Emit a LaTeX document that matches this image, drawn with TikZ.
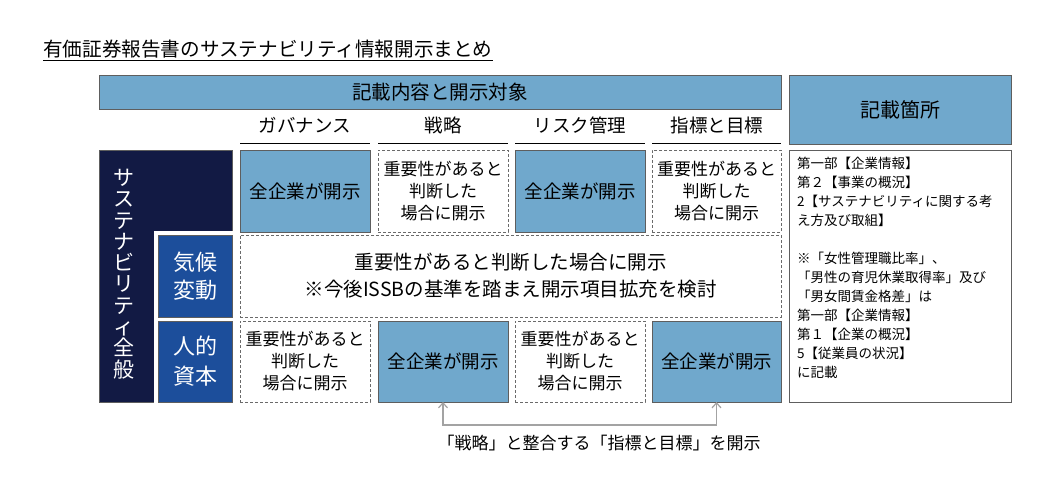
\documentclass[tikz,border=0pt]{standalone}
\usepackage{fontspec}
\setmainfont{Noto Sans CJK JP}
\usetikzlibrary{arrows.meta}
\definecolor{lb}{HTML}{70A8CC}
\definecolor{navy}{HTML}{121A44}
\definecolor{midblue}{HTML}{1C4E9B}
\definecolor{bgray}{HTML}{5E5E5E}
\definecolor{dgray}{HTML}{6A6A6A}
\definecolor{agray}{HTML}{A3A3A3}
\newcommand\myfs[2]{\fontsize{#1pt}{#2pt}\selectfont}
\begin{document}
\begin{tikzpicture}[x=1pt,y=-1pt,
  base/.style={inner sep=0pt, outer sep=0pt, anchor=north west, align=center},
  solidbox/.style={base, draw=bgray, line width=0.9pt, fill=lb},
  dashbox/.style={base, draw=dgray, line width=0.8pt, dash pattern=on 3pt off 2pt, fill=white},
  darkbox/.style={base, draw=bgray, line width=0.9pt, fill=navy},
  bluebox/.style={base, draw=bgray, line width=0.9pt, fill=midblue, text=white},
  maintxt/.style={font=\myfs{18.5}{22}},
  smalltxt/.style={font=\myfs{17}{22}},
  colhead/.style={font=\myfs{18.5}{22}, inner sep=0pt},
  uline/.style={line width=1pt, black},
  garrow/.style={agray, line width=1.2pt, {Straight Barb[length=5pt,width=9pt]}-{Straight Barb[length=5pt,width=9pt]}}
]
\useasboundingbox (0,0) rectangle (1046,497);

% title
\node[inner sep=0pt, anchor=west, font=\myfs{19.6}{22}] (title) at (43,49) {有価証券報告書のサステナビリティ情報開示まとめ};
\draw[line width=1pt] ([yshift=-2pt]title.south west) -- ([yshift=-2pt]title.south east);

% headers
\node[solidbox, minimum width=682pt, minimum height=34pt, font=\myfs{19.5}{22}] (hdr) at (99,75) {記載内容と開示対象};
\node[solidbox, minimum width=222pt, minimum height=69pt, font=\myfs{20}{22}] (loc) at (789,75) {記載箇所};

% row 1
\node[solidbox, maintxt, minimum width=130pt, minimum height=82pt] (r1a) at (240,150) {全企業が開示};
\node[dashbox, smalltxt, minimum width=130pt, minimum height=82pt] (r1b) at (378,150) {重要性があると\\判断した\\場合に開示};
\node[solidbox, maintxt, minimum width=130pt, minimum height=82pt] (r1c) at (515,150) {全企業が開示};
\node[dashbox, smalltxt, minimum width=129pt, minimum height=82pt] (r1d) at (652,150) {重要性があると\\判断した\\場合に開示};

% column headers
\node[colhead] (h1) at (305,125) {ガバナンス};
\node[colhead] (h2) at (443,125) {戦略};
\node[colhead] (h3) at (580,125) {リスク管理};
\node[colhead] (h4) at (717,125) {指標と目標};
\foreach \b in {r1a,r1b,r1c,r1d}{
  \draw[uline] ([yshift=6pt]\b.north west) -- ([yshift=6pt]\b.north east);
}

% left navy block
\node[darkbox, minimum width=133pt, minimum height=252pt] (sus) at (99,150) {};
\node[inner sep=0pt, text=white, align=center, font=\myfs{21}{21.3}] (sustxt) at (124,274) {サ\\ス\\テ\\ナ\\ビ\\リ\\テ\\ィ\\全\\般};
\fill[white] (154,231) rectangle (232.5,402.5);
\node[bluebox, minimum width=74pt, minimum height=82pt, font=\myfs{22}{28}] (kiko) at (158,235) {気候\\変動};
\node[bluebox, minimum width=74pt, minimum height=81pt, font=\myfs{22}{30}] (jinz) at (158,321) {人的\\資本};

% row 2
\node[dashbox, minimum width=541pt, minimum height=82pt, font=\myfs{19.5}{27}] (r2) at (240,235) {重要性があると判断した場合に開示\\※今後ISSBの基準を踏まえ開示項目拡充を検討};

% row 3
\node[dashbox, smalltxt, minimum width=130pt, minimum height=81pt] (r3a) at (240,321) {重要性があると\\判断した\\場合に開示};
\node[solidbox, maintxt, minimum width=130pt, minimum height=81pt] (r3b) at (378,321) {全企業が開示};
\node[dashbox, smalltxt, minimum width=130pt, minimum height=81pt] (r3c) at (515,321) {重要性があると\\判断した\\場合に開示};
\node[solidbox, maintxt, minimum width=129pt, minimum height=81pt] (r3d) at (652,321) {全企業が開示};

% right content box
\node[base, draw=bgray, line width=0.9pt, fill=white, minimum width=222pt, minimum height=252pt] (cont) at (789,150) {};
\node[inner sep=0pt, anchor=north west, align=left, font=\myfs{13.5}{19}] (conttxt) at (797,157) {第一部【企業情報】\\第２【事業の概況】\\2【サステナビリティに関する考\\え方及び取組】\\[19pt]※「女性管理職比率」、\\「男性の育児休業取得率」及び\\「男女間賃金格差」は\\第一部【企業情報】\\第１【企業の概況】\\5【従業員の状況】\\に記載};

% arrow
\coordinate (lk) at (580,425);
\draw[garrow] (r3b.south) |- (lk) -| (r3d.south);
\node[inner sep=0pt, font=\myfs{17}{22}] (cap) at (599,443) {「戦略」と整合する「指標と目標」を開示};
\end{tikzpicture}
\end{document}
